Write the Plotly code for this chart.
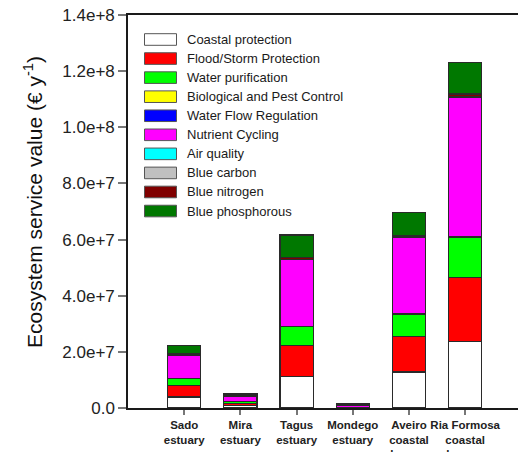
import plotly.graph_objects as go

# Sites (x categories)
sites = ["Sado<br>estuary", "Mira<br>estuary", "Tagus<br>estuary", "Mondego<br>estuary",
         "Aveiro<br>coastal<br>lagoon", "Ria Formosa<br>coastal<br>lagoon"]

# Ecosystem service values per site (€ per year)
coastal_protection = [3.9e6, 0.9e6, 11.3e6, 0.1e6, 12.8e6, 23.6e6]
flood_storm_protection = [4.0e6, 0.8e6, 11.0e6, 0.0, 12.6e6, 23.0e6]
water_purification = [2.5e6, 0.5e6, 6.8e6, 0.0, 8.1e6, 14.3e6]
biological_pest_control = [0.0, 0.0, 0.0, 0.0, 0.0, 0.0]
water_flow_regulation = [0.0, 0.0, 0.0, 0.0, 0.0, 0.0]
nutrient_cycling = [8.5e6, 2.1e6, 23.8e6, 1.0e6, 27.4e6, 49.8e6]
air_quality = [0.0, 0.0, 0.0, 0.0, 0.0, 0.0]
blue_carbon = [0.0, 0.0, 0.0, 0.0, 0.0, 0.35e6]
blue_nitrogen = [0.4e6, 0.3e6, 0.6e6, 0.1e6, 0.6e6, 0.8e6]
blue_phosphorous = [3.0e6, 0.6e6, 8.1e6, 0.2e6, 8.2e6, 11.3e6]

series_names = ["Coastal protection", "Flood/Storm Protection", "Water purification",
                "Biological and Pest Control", "Water Flow Regulation", "Nutrient Cycling",
                "Air quality", "Blue carbon", "Blue nitrogen", "Blue phosphorous"]
series_values = [coastal_protection, flood_storm_protection, water_purification,
                 biological_pest_control, water_flow_regulation, nutrient_cycling,
                 air_quality, blue_carbon, blue_nitrogen, blue_phosphorous]
series_colors = ["#FFFFFF", "#FF0000", "#00FF00", "#FFFF00", "#0000FF", "#FF00FF",
                 "#00FFFF", "#C0C0C0", "#800000", "#007800"]

y_tick_vals = [0, 2e7, 4e7, 6e7, 8e7, 1.0e8, 1.2e8, 1.4e8]
y_tick_text = ["0.0", "2.0e+7", "4.0e+7", "6.0e+7", "8.0e+7", "1.0e+8", "1.2e+8", "1.4e+8"]

W, H = 518, 452
ML, MR, MT, MB = 128, 0, 15, 44
PW, PH = W - ML - MR, H - MT - MB


def px_x(x):
    return (x - ML) / PW


def px_y(y):
    return 1 - (y - MT) / PH


FONT = "Liberation Sans, Arial, sans-serif"

fig = go.Figure()
xs = list(range(len(sites)))
for name, vals, col in zip(series_names, series_values, series_colors):
    fig.add_trace(go.Bar(
        x=xs, y=vals, name=name, width=0.59,
        marker=dict(color=col, line=dict(color="#2a2a2a", width=1.2)),
        showlegend=False,
    ))

# Legend: swatches and labels
shapes = []
annotations = []
row0, step = 39.5, 19.06
for i, (name, col) in enumerate(zip(series_names, series_colors)):
    cy = row0 + i * step
    shapes.append(dict(type="rect", xref="paper", yref="paper",
                       x0=px_x(144.5), x1=px_x(176.5),
                       y0=px_y(cy + 5.8), y1=px_y(cy - 5.8),
                       fillcolor=col, line=dict(color="#555555", width=1)))
    annotations.append(dict(xref="paper", yref="paper", x=px_x(185), y=px_y(cy),
                            xanchor="left", yanchor="middle", showarrow=False,
                            text=name, font=dict(family=FONT, size=13, color="#1a1a1a")))

annotations.append(dict(xref="paper", yref="paper", x=px_x(33), y=px_y(202),
                        xanchor="center", yanchor="middle", showarrow=False, textangle=-90,
                        text="Ecosystem service value (€ y<sup>-1</sup>)",
                        font=dict(family=FONT, size=21, color="#111111")))

fig.update_layout(
    width=W, height=H,
    margin=dict(l=ML, r=MR, t=MT, b=MB, pad=0, autoexpand=False),
    barmode="stack",
    plot_bgcolor="white", paper_bgcolor="white",
    shapes=shapes, annotations=annotations,
    showlegend=False,
    xaxis=dict(range=[-1, 5.94], tickmode="array", tickvals=xs, ticktext=sites,
               tickangle=0, automargin=False,
               ticks="outside", ticklen=5, tickcolor="#777777", tickwidth=1.5,
               showline=True, linecolor="#1a1a1a", linewidth=1.5, mirror=True,
               showgrid=False, zeroline=False,
               tickfont=dict(family=FONT, size=11.5, color="#222222", weight="bold")),
    yaxis=dict(range=[0, 1.4e8], tickmode="array", tickvals=y_tick_vals, ticktext=y_tick_text,
               automargin=False,
               ticks="outside", ticklen=8, tickcolor="#777777", tickwidth=1.5,
               showline=True, linecolor="#1a1a1a", linewidth=1.5, mirror=False,
               showgrid=False, zeroline=False,
               tickfont=dict(family=FONT, size=17, color="#222222")),
)

fig.write_html("out.html")
